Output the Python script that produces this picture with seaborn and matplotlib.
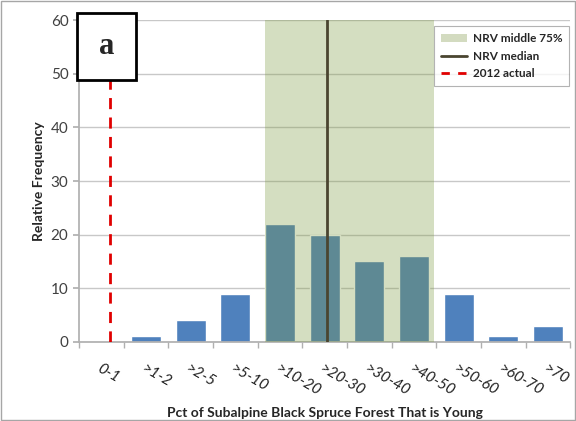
import numpy as np
import pandas as pd
import matplotlib
matplotlib.use('Agg')
import matplotlib.pyplot as plt
from matplotlib.lines import Line2D
from matplotlib.patches import Patch, Rectangle
import seaborn as sns

# データ
categories = ['0-1', '>1-2', '>2-5', '>5-10', '>10-20', '>20-30',
              '>30-40', '>40-50', '>50-60', '>60-70', '>70']
frequency = [0, 1, 4, 9, 22, 20, 15, 16, 9, 1, 3]
nrv_low = 3.66      # NRV middle 75% (category coordinates)
nrv_high = 7.44
nrv_median = 5.05
actual_2012 = 0.2

sns.set_theme(style='white')
plt.rcParams['font.family'] = ['Lato', 'DejaVu Sans']

df = pd.DataFrame({'cat': categories, 'freq': frequency})

fig = plt.figure(figsize=(5.76, 4.21), dpi=100)
ax = fig.add_axes([0.137, 0.188, 0.853, 0.764])
fig.patches.append(Rectangle((0.002, 0.002), 0.996, 0.996, transform=fig.transFigure,
                             fill=False, edgecolor='#a6a6a6', lw=1))

sns.barplot(data=df, x='cat', y='freq', color='#4f81bd', saturation=1,
            width=0.67, ax=ax, zorder=2)

# NRV帯 (半透明で棒の上に重ねる)
ax.axvspan(nrv_low, nrv_high, color='#7f9b43', alpha=0.33, lw=0, zorder=3)
ax.axvline(nrv_median, color='#4a4530', lw=2, zorder=4)
ax.axvline(actual_2012, color='#e00000', lw=2, ls=(0, (4, 3)), zorder=4)

ax.set_xlim(-0.5, len(categories) - 0.5)
ax.set_ylim(0, 60)
ax.set_yticks(range(0, 61, 10))
ax.yaxis.grid(True, color='#c8c8c8', lw=1)
ax.set_axisbelow(True)

for s in ['top', 'right']:
    ax.spines[s].set_visible(False)
for s in ['left', 'bottom']:
    ax.spines[s].set_color('#b0b0b0')

ax.tick_params(axis='y', labelsize=11, colors='#404040', length=4, color='#b0b0b0', left=True)
ax.set_xticks(np.arange(len(categories)))
ax.set_xticklabels(categories, rotation=-30, ha='left', rotation_mode='anchor',
                   fontstyle='italic', fontsize=11, color='#222222')
ax.tick_params(axis='x', length=0, pad=14)
ax.set_xticks(np.arange(-0.5, len(categories), 1), minor=True)
ax.tick_params(axis='x', which='minor', length=4, color='#b0b0b0', bottom=True)

ax.set_xlabel('Pct of Subalpine Black Spruce Forest That is Young',
              fontsize=10, fontweight='bold', labelpad=6)
ax.set_ylabel('Relative Frequency', fontsize=10, fontweight='bold')

handles = [Patch(facecolor='#d3dbc0', edgecolor='none'),
           Line2D([0], [0], color='#4a4530', lw=2),
           Line2D([0], [0], color='#e00000', lw=2, ls=(0, (3, 3)))]
leg = ax.legend(handles, ['NRV middle 75%', 'NRV median', '2012 actual'],
                loc='upper right', bbox_to_anchor=(1.01, 1.0),
                prop={'weight': 'bold', 'size': 8.5}, frameon=True, fancybox=False,
                edgecolor='#a0a0a0', handlelength=2.2, borderpad=0.6, labelspacing=0.55,
                handletextpad=0.5)
leg.get_frame().set_linewidth(0.8)

# パネル記号 "a"
fig.patches.append(Rectangle((77 / 576, 1 - 80 / 421), 59 / 576, 67 / 421,
                             transform=fig.transFigure, facecolor='white',
                             edgecolor='black', lw=2, zorder=6))
fig.text(106.5 / 576, 1 - 47 / 421, 'a', fontsize=22, fontweight='bold',
         family='Liberation Serif', ha='center', va='center', zorder=7)

fig.savefig('out.png', dpi=100)
